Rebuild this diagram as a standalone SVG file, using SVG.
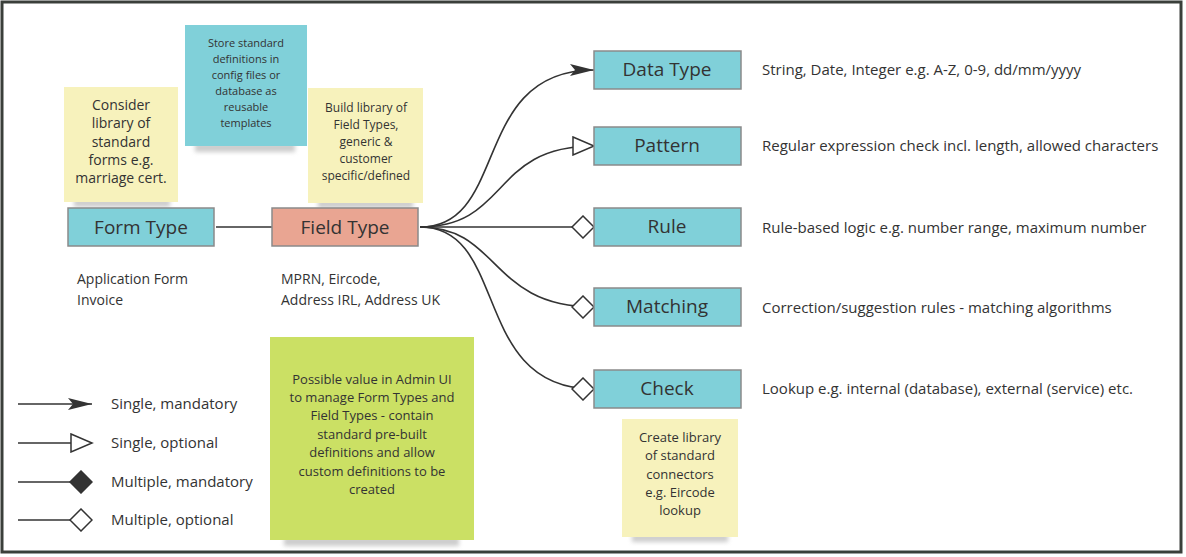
<svg xmlns="http://www.w3.org/2000/svg" width="1186" height="557" viewBox="0 0 1186 557">
<style>
.box{stroke:#8a8a8a;stroke-width:1.5}
.blue{fill:#80d0d9}
.salmon{fill:#e9a592}
.note{fill:#f7f2bc}
.green{fill:#cbe064}
.bluenote{fill:#80d0d9}
.shadow{fill:#9a9a9a;opacity:0.5}
.t{font-family:"Open Sans","Liberation Sans",sans-serif;fill:#333}
.title{font-size:19px;text-anchor:middle}
.c{text-anchor:middle}
.conn{fill:none;stroke:#333;stroke-width:1.6}
</style>
<defs>
<marker id="arrFill" markerWidth="24" markerHeight="14" refX="24" refY="7" orient="auto" markerUnits="userSpaceOnUse"><path d="M0,1 L24,7 L0,13 L5,7 Z" fill="#333"/></marker>
<marker id="arrOpen" markerWidth="24" markerHeight="20" refX="22" refY="10" orient="auto" markerUnits="userSpaceOnUse"><path d="M1,1 L22,10 L1,19 Z" fill="#fff" stroke="#333" stroke-width="1.5"/></marker>
<marker id="diaOpen" markerWidth="24" markerHeight="24" refX="23" refY="12" orient="auto" markerUnits="userSpaceOnUse"><path d="M1,12 L12,1 L23,12 L12,23 Z" fill="#fff" stroke="#333" stroke-width="1.5"/></marker>
<marker id="diaFill" markerWidth="24" markerHeight="24" refX="23" refY="12" orient="auto" markerUnits="userSpaceOnUse"><path d="M1,12 L12,1 L23,12 L12,23 Z" fill="#333" stroke="#333" stroke-width="1.5"/></marker>
<filter id="blur" x="-20%" y="-50%" width="140%" height="200%"><feGaussianBlur stdDeviation="2"/></filter>
</defs>
<rect x="0" y="0" width="1186" height="557" fill="#fff"/>
<rect x="2" y="2" width="1179" height="550" fill="none" stroke="#3a3f3a" stroke-width="3"/>

<g id="connectors">
<line class="conn" x1="216" y1="227" x2="272" y2="227"/>
<path class="conn" d="M420,227 C510,227 470,70 594,70" marker-end="url(#arrFill)"/>
<path class="conn" d="M420,227 C510,227 490,146 594,146" marker-end="url(#arrOpen)"/>
<path class="conn" d="M420,227 L594,227" marker-end="url(#diaOpen)"/>
<path class="conn" d="M420,227 C500,227 490,307 594,307" marker-end="url(#diaOpen)"/>
<path class="conn" d="M420,227 C510,227 470,389 594,389" marker-end="url(#diaOpen)"/>
</g>

<g id="note-forms">
<rect class="shadow" x="74" y="199" width="96" height="8" filter="url(#blur)"/>
<rect class="note" x="64" y="87" width="114" height="115"/>
<text class="t c" font-size="14"><tspan x="121" y="110">Consider</tspan><tspan x="121" y="128">library of</tspan><tspan x="121" y="147">standard</tspan><tspan x="121" y="165">forms e.g.</tspan><tspan x="121" y="183">marriage cert.</tspan></text>
</g>

<g id="note-store">
<rect class="shadow" x="195" y="143" width="100" height="9" filter="url(#blur)"/>
<rect class="bluenote" x="185" y="25" width="122" height="121"/>
<text class="t c" font-size="11"><tspan x="246" y="47">Store standard</tspan><tspan x="246" y="63">definitions in</tspan><tspan x="246" y="79">config files or</tspan><tspan x="246" y="95">database as</tspan><tspan x="246" y="111">reusable</tspan><tspan x="246" y="127">templates</tspan></text>
</g>

<g id="note-build">
<rect class="shadow" x="318" y="200" width="95" height="8" filter="url(#blur)"/>
<rect class="note" x="308" y="88" width="115" height="115"/>
<text class="t c" font-size="12"><tspan x="366" y="112">Build library of</tspan><tspan x="366" y="129">Field Types,</tspan><tspan x="366" y="146">generic &amp;</tspan><tspan x="366" y="163">customer</tspan><tspan x="366" y="180">specific/defined</tspan></text>
</g>

<g id="form-type">
<rect class="box blue" x="68" y="208" width="146" height="38"/>
<text class="t title" x="141" y="234">Form Type</text>
</g>

<g id="field-type">
<rect class="box salmon" x="272" y="208" width="146" height="38"/>
<text class="t title" x="345" y="234">Field Type</text>
</g>

<g id="form-examples">
<text class="t" font-size="14"><tspan x="77" y="284">Application Form</tspan><tspan x="77" y="305">Invoice</tspan></text>
</g>
<g id="field-examples">
<text class="t" font-size="14"><tspan x="281" y="284">MPRN, Eircode,</tspan><tspan x="281" y="305">Address IRL, Address UK</tspan></text>
</g>

<g id="data-type">
<rect class="box blue" x="594" y="51" width="147" height="38"/>
<text class="t title" x="667" y="76">Data Type</text>
</g>
<g id="pattern">
<rect class="box blue" x="594" y="127" width="147" height="38"/>
<text class="t title" x="667" y="152">Pattern</text>
</g>
<g id="rule">
<rect class="box blue" x="594" y="208" width="147" height="38"/>
<text class="t title" x="667" y="233">Rule</text>
</g>
<g id="matching">
<rect class="box blue" x="594" y="288" width="147" height="38"/>
<text class="t title" x="667" y="313">Matching</text>
</g>
<g id="check">
<rect class="box blue" x="594" y="370" width="147" height="38"/>
<text class="t title" x="667" y="395">Check</text>
</g>

<g id="descriptions">
<text class="t" font-size="15" x="762" y="75">String, Date, Integer e.g. A-Z, 0-9, dd/mm/yyyy</text>
<text class="t" font-size="15" x="762" y="151">Regular expression check incl. length, allowed characters</text>
<text class="t" font-size="15" x="762" y="233">Rule-based logic e.g. number range, maximum number</text>
<text class="t" font-size="15" x="762" y="313">Correction/suggestion rules - matching algorithms</text>
<text class="t" font-size="15" x="762" y="394">Lookup e.g. internal (database), external (service) etc.</text>
</g>

<g id="note-connectors">
<rect class="shadow" x="632" y="534" width="96" height="8" filter="url(#blur)"/>
<rect class="note" x="622" y="419" width="116" height="118"/>
<text class="t c" font-size="13"><tspan x="680" y="442">Create library</tspan><tspan x="680" y="460">of standard</tspan><tspan x="680" y="479">connectors</tspan><tspan x="680" y="497">e.g. Eircode</tspan><tspan x="680" y="515">lookup</tspan></text>
</g>

<g id="note-admin">
<rect class="shadow" x="284" y="537" width="175" height="9" filter="url(#blur)"/>
<rect class="green" x="270" y="337" width="204" height="203"/>
<text class="t c" font-size="13"><tspan x="372" y="384">Possible value in Admin UI</tspan><tspan x="372" y="402">to manage Form Types and</tspan><tspan x="372" y="420">Field Types - contain</tspan><tspan x="372" y="439">standard pre-built</tspan><tspan x="372" y="457">definitions and allow</tspan><tspan x="372" y="476">custom definitions to be</tspan><tspan x="372" y="494">created</tspan></text>
</g>

<g id="legend">
<line class="conn" x1="18" y1="404" x2="92" y2="404" marker-end="url(#arrFill)"/>
<line class="conn" x1="18" y1="443" x2="92" y2="443" marker-end="url(#arrOpen)"/>
<line class="conn" x1="18" y1="482" x2="92" y2="482" marker-end="url(#diaFill)"/>
<line class="conn" x1="18" y1="520" x2="92" y2="520" marker-end="url(#diaOpen)"/>
<text class="t" font-size="15" x="111" y="409">Single, mandatory</text>
<text class="t" font-size="15" x="111" y="448">Single, optional</text>
<text class="t" font-size="15" x="111" y="487">Multiple, mandatory</text>
<text class="t" font-size="15" x="111" y="525">Multiple, optional</text>
</g>
</svg>
